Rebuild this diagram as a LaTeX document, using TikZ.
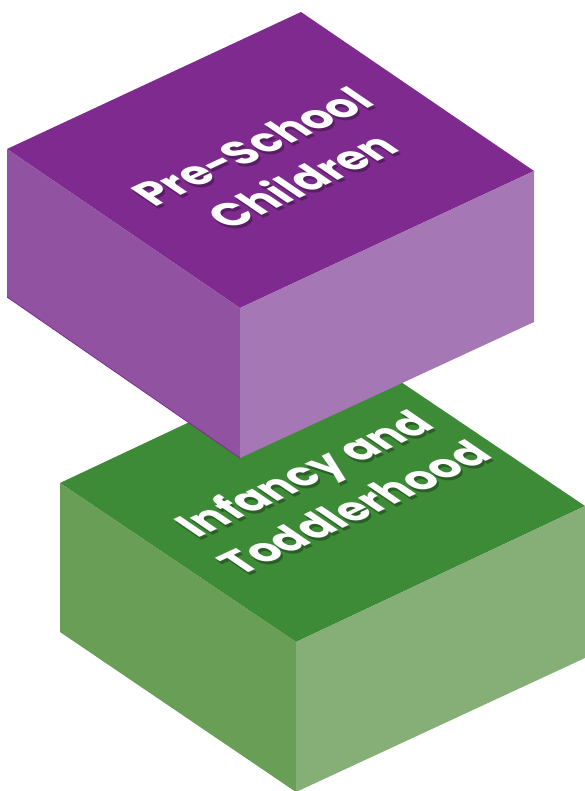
\documentclass[tikz,border=0pt]{standalone}
\usepackage{fontspec}
\setmainfont{Poppins}
\begin{document}
\begin{tikzpicture}[x=1pt,y=1pt]
\definecolor{pTopC}{HTML}{7F2A8F}
\definecolor{pLeftC}{HTML}{9153A1}
\definecolor{pRightC}{HTML}{A577B4}
\definecolor{gTopC}{HTML}{3D8A37}
\definecolor{gLeftC}{HTML}{699E57}
\definecolor{gRightC}{HTML}{85AF76}
\tikzset{
  facelabel/.style={text=white, font=\fontsize{45}{61}\selectfont\bfseries, align=center, inner sep=0pt, transform shape},
  faceshadow/.style={facelabel, text=black, opacity=0.3},
  isoface/.style={cm={0.865,0.403,-0.826,0.564,(0,0)}}
}
\useasboundingbox (0,0) rectangle (584,-791);
% green box corners
\coordinate (gT) at (349,-347);
\coordinate (gR) at (585,-506);
\coordinate (gF) at (296,-642);
\coordinate (gL) at (60,-483);
\coordinate (gRb) at (585,-658);
\coordinate (gFb) at (296,-792);
\coordinate (gLb) at (60,-632);
% purple box corners
\coordinate (pT) at (301,-12);
\coordinate (pR) at (534,-171);
\coordinate (pF) at (240,-308);
\coordinate (pL) at (7,-149);
\coordinate (pRb) at (534,-322);
\coordinate (pFb) at (240,-458);
\coordinate (pLb) at (7,-297);
% green box
\fill[gTopC] (gT) -- (gR) -- (gF) -- (gL) -- cycle;
\fill[gLeftC] (gL) -- (gF) -- (gFb) -- (gLb) -- cycle;
\fill[gRightC] (gF) -- (gR) -- (gRb) -- (gFb) -- cycle;
\begin{scope}[shift={(330,-493)}, isoface]
  \node[faceshadow] (gshadow) {Infancy and\\Toddlerhood};
\end{scope}
\begin{scope}[shift={(328,-490)}, isoface]
  \node[facelabel] (glabel) {Infancy and\\Toddlerhood};
\end{scope}
% purple box
\fill[pTopC] (pT) -- (pR) -- (pF) -- (pL) -- cycle;
\fill[pLeftC] (pL) -- (pF) -- (pFb) -- (pLb) -- cycle;
\fill[pRightC] (pF) -- (pR) -- (pRb) -- (pFb) -- cycle;
\draw[pTopC, line width=0.8pt] (pLb) -- (pFb);
\begin{scope}[shift={(279,-167)}, isoface]
  \node[faceshadow] (pshadow) {Pre-School\\Children};
\end{scope}
\begin{scope}[shift={(277,-164)}, isoface]
  \node[facelabel] (plabel) {Pre-School\\Children};
\end{scope}
\end{tikzpicture}
\end{document}
